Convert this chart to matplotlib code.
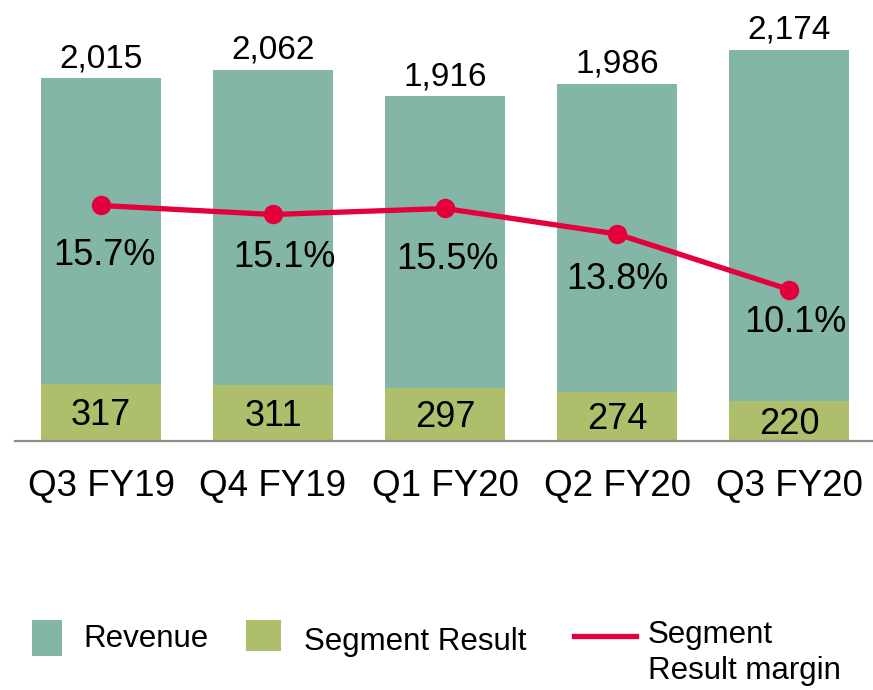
import matplotlib
matplotlib.use("Agg")
import matplotlib.pyplot as plt
from matplotlib.patches import Rectangle
from matplotlib.lines import Line2D
import numpy as np

# ---- data ----
categories = ["Q3 FY19", "Q4 FY19", "Q1 FY20", "Q2 FY20", "Q3 FY20"]
revenue = [2015, 2062, 1916, 1986, 2174]
segment_result = [317, 311, 297, 274, 220]
margin = [15.7, 15.1, 15.5, 13.8, 10.1]

# ---- style ----
TEAL = "#84B6A8"
OLIVE = "#ADBF6A"
RED = "#E4003B"
FONT = "Liberation Sans"
plt.rcParams["font.family"] = [FONT, "DejaVu Sans"]

W, H = 873, 690
DPI = 100
fig = plt.figure(figsize=(W / DPI, H / DPI), dpi=DPI)

def fx(px):
    return px / W

def fy(py):
    return 1 - py / H

base_px = 441
ax = fig.add_axes([fx(15), fy(base_px), fx(860), base_px / H])
x = np.arange(len(categories))
bw = 0.70

ax.bar(x, revenue, width=bw, color=TEAL, zorder=2)
ax.bar(x, segment_result, width=bw, color=OLIVE, zorder=3)
ax.set_xlim(-0.5, len(categories) - 0.5)
ax.set_ylim(0, base_px / 0.18)

for s in ["top", "left", "right"]:
    ax.spines[s].set_visible(False)
ax.spines["bottom"].set_color("#8C8C8C")
ax.spines["bottom"].set_linewidth(1.6)
ax.spines["bottom"].set_zorder(5)
ax.set_yticks([])
ax.set_xticks(x)
ax.set_xticklabels(categories, fontsize=26.5)
ax.tick_params(axis="x", length=0, pad=20)

pt = 72 / DPI  # points per pixel
for xi, v in zip(x, revenue):
    ax.annotate(f"{v:,}", (xi, v), xytext=(0, 11 * pt), textcoords="offset points",
                ha="center", va="baseline", fontsize=24, zorder=6)
for xi, v in zip(x, segment_result):
    ax.annotate(f"{v:,}", (xi, v / 2), xytext=(0, -13 * pt), textcoords="offset points",
                ha="center", va="baseline", fontsize=26, zorder=6)

ax2 = ax.twinx()
ax2.set_ylim(0, base_px / 15.0)
ax2.axis("off")
ax2.plot(x, margin, color=RED, lw=3.8, marker="o", markersize=13,
         solid_capstyle="round", zorder=7)
label_dx = [3, 11, 2, 0, 6]
label_dy = [60, 53, 61, 55, 42]
for xi, v, dx, dy in zip(x, margin, label_dx, label_dy):
    ax2.annotate(f"{v:.1f}%", (xi, v), xytext=(dx * pt, -dy * pt), textcoords="offset points",
                 ha="center", va="baseline", fontsize=26, zorder=8)

# ---- legend (manual) ----
fig.add_artist(Rectangle((fx(32), fy(656)), fx(30), (656 - 620) / H,
                         transform=fig.transFigure, color=TEAL, lw=0))
fig.add_artist(Rectangle((fx(246), fy(651)), fx(35), (651 - 620) / H,
                         transform=fig.transFigure, color=OLIVE, lw=0))
fig.add_artist(Line2D([fx(574), fx(636)], [fy(636), fy(636)],
                      transform=fig.transFigure, color=RED, lw=3.8))
fig.text(fx(83), fy(639), "Revenue", fontsize=22.5, va="center", ha="left")
fig.text(fx(304), fy(642), "Segment Result", fontsize=22.5, va="center", ha="left")
fig.text(fx(648), fy(635), "Segment", fontsize=22.5, va="center", ha="left")
fig.text(fx(648), fy(671), "Result margin", fontsize=22.5, va="center", ha="left")

fig.savefig("out.png", dpi=DPI)
